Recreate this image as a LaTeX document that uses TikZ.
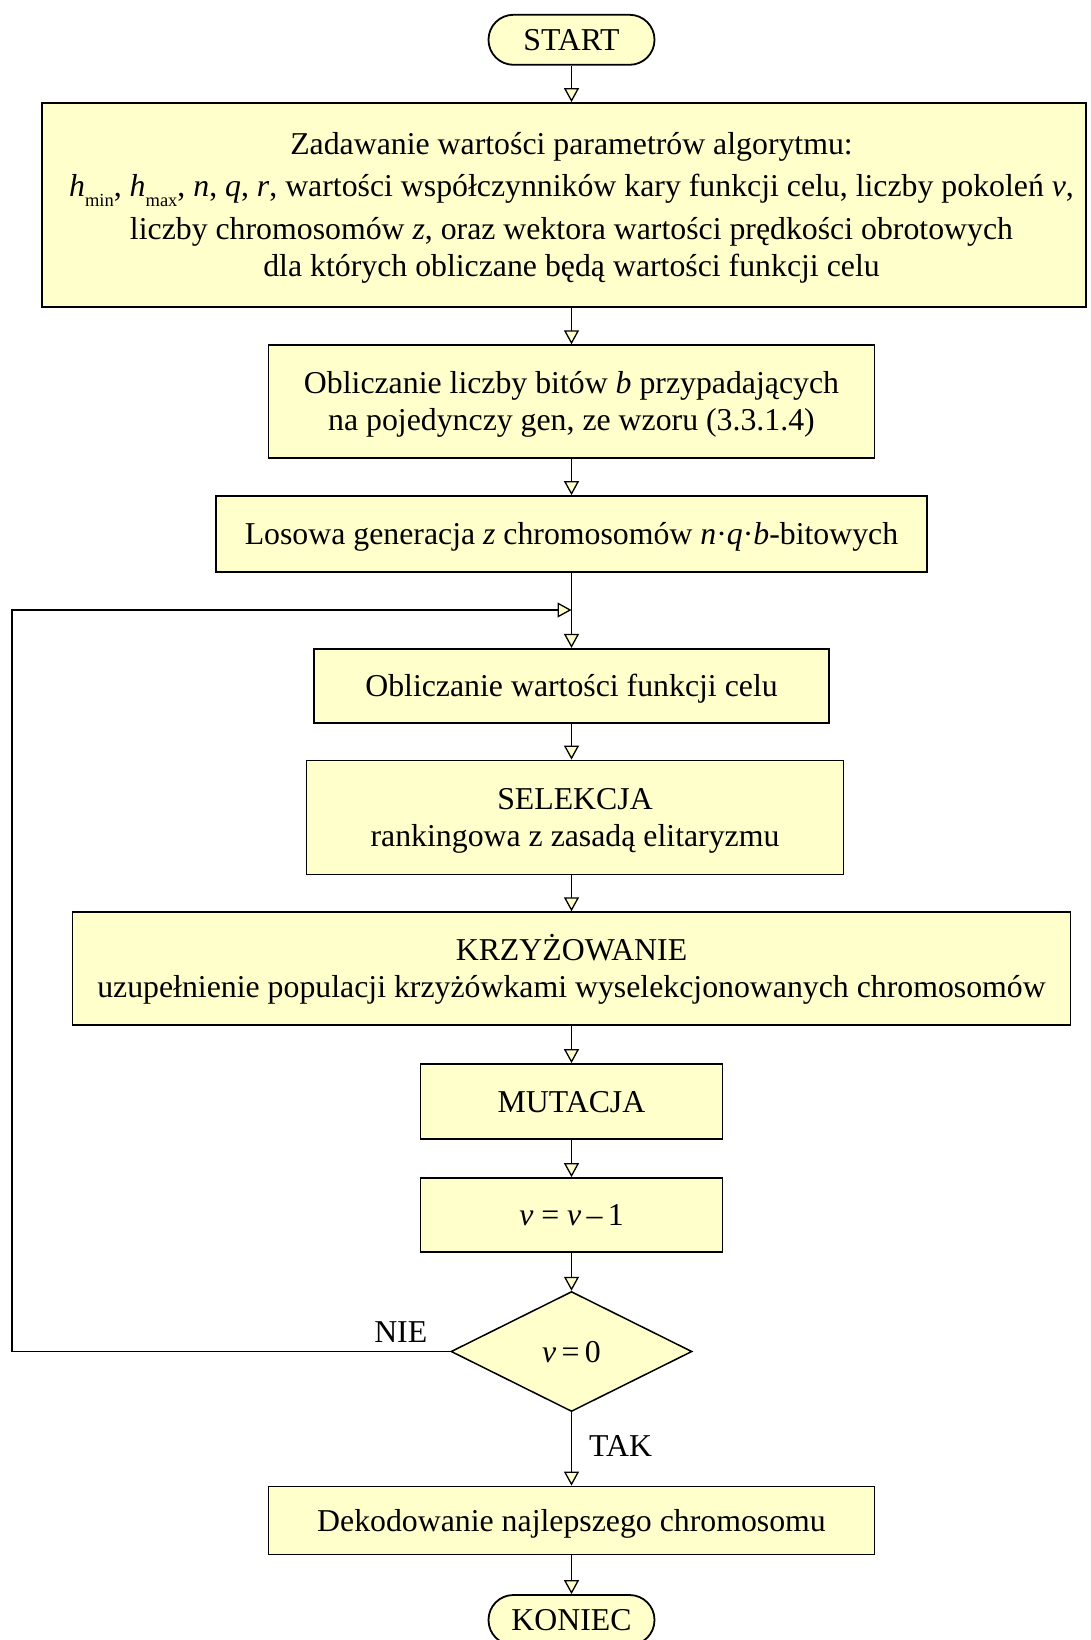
\documentclass[tikz,border=0pt]{standalone}
\usepackage{fontspec}
\setmainfont{Liberation Serif}
\usetikzlibrary{arrows.meta,shapes.geometric}
\definecolor{boxfill}{RGB}{255,255,204}
% small lowered index, as in h_min
\newcommand{\lowidx}[1]{\raisebox{-0.32em}{\fontsize{18.5}{18.5}\selectfont #1}}
% invisible rules that balance the text box round the capital height
\newcommand{\toprow}{\rule{0pt}{0.95em}}
\newcommand{\botrow}{\rule[-0.29em]{0pt}{0.29em}}
\begin{document}
\begin{tikzpicture}[x=1pt,y=-1pt,
  every node/.style={font=\fontsize{31.8}{37}\selectfont},
  plainblock/.style={draw=black, line width=1.8pt, fill=boxfill, rectangle, inner sep=0pt},
  block/.style={plainblock, align=center},
  terminal/.style={block, rounded corners=24.9pt, minimum width=166pt, minimum height=50pt},
  decision/.style={draw=black, line width=1.5pt, fill=boxfill, diamond, inner sep=0pt,
    minimum width=241pt, minimum height=120pt},
  flow/.style={draw=black, line width=1.3pt, line join=miter,
    -{Triangle[length=14pt,width=15pt,fill=boxfill]}},
  tag/.style={inner sep=0pt},
]
\useasboundingbox (0,0) rectangle (1090,1640);

% process steps
\node[terminal] (start) at (571.5,39.8) {\toprow START\botrow};
\node[plainblock, minimum width=1044pt, minimum height=204pt] (params) at (564,205)
  {\hspace*{15pt}\begin{tabular}{@{}c@{}}
   \rule{0pt}{32pt}Zadawanie wartości parametrów algorytmu:\\[5pt]
   \textit{h}\lowidx{min}, \textit{h}\lowidx{max}, \textit{n}, \textit{q}, \textit{r}, wartości współczynników kary funkcji celu, liczby pokoleń \textit{ν},\\[6pt]
   liczby chromosomów \textit{z}, oraz wektora wartości prędkości obrotowych\\
   dla których obliczane będą wartości funkcji celu
   \end{tabular}};
\node[block, minimum width=606pt, minimum height=113pt] (bits) at (571.5,401.7)
  {\toprow Obliczanie liczby bitów \textit{b} przypadających\\ na pojedynczy gen, ze wzoru (3.3.1.4)\botrow};
\node[block, minimum width=711pt, minimum height=76pt] (init) at (571.5,534)
  {\toprow Losowa generacja \textit{z} chromosomów \textit{n}·\textit{q}·\textit{b}-bitowych\botrow};
\coordinate (joint) at (571.5,610);
\coordinate (leftrail) at (12,0);
\node[block, minimum width=515pt, minimum height=74pt] (eval) at (571.5,685.8)
  {\toprow Obliczanie wartości funkcji celu\botrow};
\node[block, minimum width=537pt, minimum height=114pt] (select) at (575,817.5)
  {\toprow SELEKCJA\\ rankingowa z zasadą elitaryzmu\botrow};
\node[block, minimum width=998pt, minimum height=113pt] (cross) at (571.5,968.7)
  {\toprow KRZYŻOWANIE\\ uzupełnienie populacji krzyżówkami wyselekcjonowanych chromosomów\botrow};
\node[block, minimum width=302pt, minimum height=75pt] (mut) at (571.5,1101.5)
  {\toprow MUTACJA\botrow};
\node[block, minimum width=302pt, minimum height=74pt] (dec) at (571.5,1215)
  {\toprow\textit{ν} = \textit{ν}\,–\,1\botrow};
\node[decision] (test) at (571.5,1351.5) {\toprow\textit{ν}\,=\,0\botrow};
\node[block, minimum width=606pt, minimum height=68pt] (decode) at (571.5,1520.5)
  {\toprow Dekodowanie najlepszego chromosomu\botrow};
\node[terminal] (stop) at (571.5,1620) {\toprow KONIEC\botrow};

% connectors
\draw[flow] (start.south) -- (start.south |- params.north);
\draw[flow] (params.south -| bits.north) -- (bits.north);
\draw[flow] (bits.south) -- (init.north);
\draw[flow] (init.south) -- (eval.north);
\draw[flow] (eval.south) -- (eval.south |- select.north);
\draw[flow] (select.south -| cross.north) -- (cross.north);
\draw[flow] (cross.south) -- (mut.north);
\draw[flow] (mut.south) -- (dec.north);
\draw[flow] (dec.south) -- (test.north);
\draw[flow] (test.south) -- node[tag, right, xshift=17pt, pos=0.46] (yes) {TAK} (decode.north);
\draw[flow] (decode.south) -- (stop.north);
\draw[flow] (test.west) -- (test.west -| leftrail) -- (leftrail |- joint) -- (joint);
\node[tag] (no) at ([shift={(-49.5,-19)}]test.west) {NIE};
\end{tikzpicture}
\end{document}
